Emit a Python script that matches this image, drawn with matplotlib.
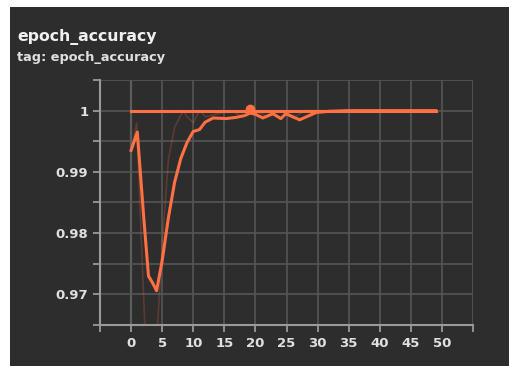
import numpy as np
import matplotlib.pyplot as plt
from matplotlib.patches import Rectangle

# smoothed run (bright line)
steps = [0, 1, 2, 2.8, 3.5, 4.1, 5, 6, 7, 8, 9, 10, 11, 11.9, 13.2, 15.3, 16.9, 18.3, 19.1,
         20, 21.2, 22.8, 24.1, 24.9, 27.1, 29.8, 32, 35, 40, 45, 49]
acc = [0.9935, 0.9965, 0.983, 0.973, 0.9718, 0.9706, 0.9755, 0.9825, 0.9883, 0.9922, 0.9948,
       0.9966, 0.9969, 0.9981, 0.9988, 0.9987, 0.9989, 0.9992, 0.9996, 0.9994, 0.9988, 0.9995,
       0.9987, 0.9995, 0.9985, 0.9997, 0.9999, 1.0, 1.0, 1.0, 1.0]

# raw run (faint line)
raw_steps = [0, 0.9, 2.2, 3, 4.1, 5, 6, 7, 8.4, 9, 10, 11, 12, 14, 16, 18, 20, 22, 24, 26,
             28, 30, 35, 40, 45, 49]
raw_acc = [0.9935, 0.998, 0.965, 0.958, 0.962, 0.978, 0.992, 0.9973, 1.0, 0.999, 0.998,
           1.0, 0.999, 0.9995, 1.0, 0.999, 1.0, 0.999, 1.0, 0.9988, 1.0, 1.0, 1.0, 1.0, 1.0, 1.0]

# second run, flat at 1
flat_steps = [0, 49]
flat_acc = [1.0, 1.0]

marker_step = [19.1]
marker_acc = [1.0003]

bg = "#2d2d2d"
orange = "#ff7043"

fig = plt.figure(figsize=(5.09, 3.66), dpi=100, facecolor="white")
fig.patches.append(Rectangle((10 / 509, 0), 1, (366 - 7) / 366, transform=fig.transFigure,
                             facecolor=bg, edgecolor="none", zorder=-1))

ax = fig.add_axes([100 / 509, 41 / 366, 373 / 509, 245 / 366])
ax.set_facecolor(bg)

ax.plot(raw_steps, raw_acc, color=orange, alpha=0.22, lw=1.2, zorder=2)
ax.plot(flat_steps, flat_acc, color=orange, lw=2.2, zorder=3)
ax.plot(steps, acc, color=orange, lw=2.2, zorder=4)
ax.plot(marker_step, marker_acc, "o", color=orange, ms=6, zorder=5)

ax.set_xlim(-5, 55)
ax.set_ylim(0.965, 1.005)
ax.set_xticks(np.arange(-5, 56, 5))
ax.set_xticklabels([""] + [str(v) for v in range(0, 51, 5)] + [""])
ax.set_yticks(np.arange(0.965, 1.0051, 0.005))
ylabels = []
for v in np.arange(0.965, 1.0051, 0.005):
    r = round(v, 3)
    if abs(r * 100 - round(r * 100)) < 1e-6:
        ylabels.append("1" if r == 1.0 else f"{r:.2f}")
    else:
        ylabels.append("")
ax.set_yticklabels(ylabels)

ax.grid(True, color="#555555", lw=1.2)
ax.axvline(0, color="#8a8a8a", lw=1.5, zorder=1)
for s in ["top", "right"]:
    ax.spines[s].set_visible(False)
for s in ["left", "bottom"]:
    ax.spines[s].set_color("#9a9a9a")
    ax.spines[s].set_linewidth(1.5)
ax.tick_params(colors="#9a9a9a", length=5, width=1.3, labelcolor="#e0e0e0", labelsize=9.5)
for lab in ax.get_xticklabels() + ax.get_yticklabels():
    lab.set_fontweight("bold")

fig.text(17 / 509, 1 - 37 / 366, "epoch_accuracy", color="#f0f0f0", fontsize=11.3,
         va="center", ha="left", fontweight="bold")
fig.text(17 / 509, 1 - 57 / 366, "tag: epoch_accuracy", color="#e0e0e0", fontsize=9.3,
         va="center", ha="left", fontweight="bold")

fig.savefig("out.png", dpi=100, facecolor=fig.get_facecolor())
